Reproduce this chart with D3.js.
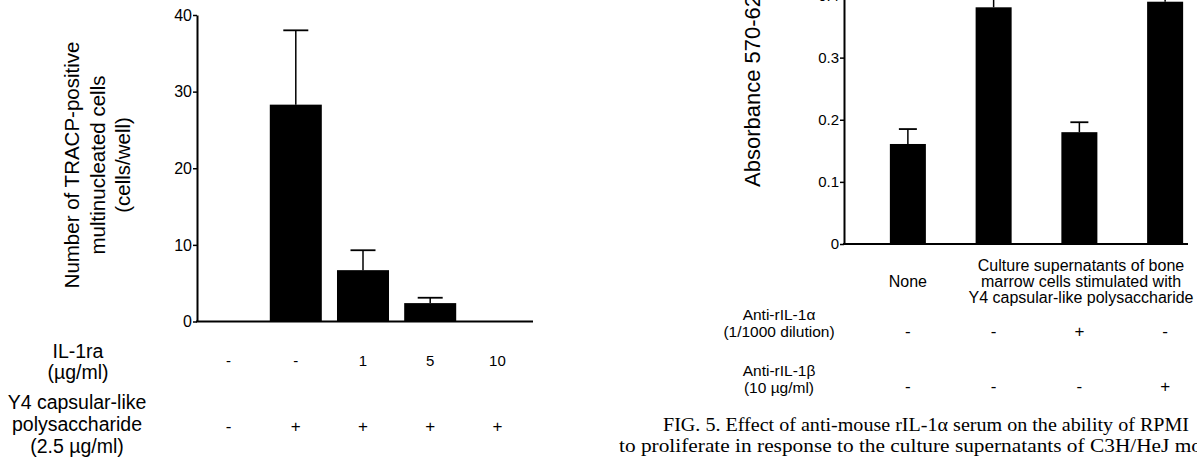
<!DOCTYPE html>
<html>
<head>
<meta charset="utf-8">
<script src="https://cdn.jsdelivr.net/npm/d3@7"></script>
<style>
  body { margin: 0; background: #fff; }
  svg { display: block; overflow: hidden; }
  text { font-family: "Liberation Sans", Arial, sans-serif; fill: #000; }
  .caption { font-family: "Liberation Serif", "Times New Roman", serif; }
</style>
</head>
<body>
<div id="fig"></div>
<script>
// left panel: TRACP-positive multinucleated cells
const leftGroups = ["g1", "g2", "g3", "g4", "g5"];
const leftValues = [0, 28.3, 6.7, 2.4, 0];
const leftErrTop = [null, 38.0, 9.3, 3.1, null];
const leftTicks = [0, 10, 20, 30, 40];
const il1raRow = ["-", "-", "1", "5", "10"];
const y4Row = ["-", "+", "+", "+", "+"];

// right panel: absorbance
const rightGroups = ["r1", "r2", "r3", "r4"];
const rightValues = [0.161, 0.381, 0.180, 0.39];
const rightErrTop = [0.185, 0.42, 0.196, 0.42];
const rightTicks = [0, 0.1, 0.2, 0.3, 0.4];
const antiAlphaRow = ["-", "-", "+", "-"];
const antiBetaRow = ["-", "-", "-", "+"];

const width = 1197, height = 457;

const svg = d3.select("#fig")
    .append("svg")
    .attr("width", width)
    .attr("height", height);

// ---------- left chart ----------
const xL = d3.scaleBand()
    .domain(leftGroups)
    .range([195, 531])
    .paddingInner(0.226)
    .paddingOuter(0.113);

const yL = d3.scaleLinear()
    .domain([0, 40])
    .range([321.5, 15]);

const gL = svg.append("g");

gL.selectAll("rect.bar")
    .data(leftValues)
    .join("rect")
    .attr("class", "bar")
    .attr("x", (d, i) => xL(leftGroups[i]))
    .attr("width", xL.bandwidth())
    .attr("y", d => yL(d))
    .attr("height", d => yL(0) - yL(d))
    .attr("fill", "#000");

// error bars (upper only)
leftErrTop.forEach(function (e, i) {
    if (e == null) return;
    const cx = xL(leftGroups[i]) + xL.bandwidth() / 2;
    gL.append("line")
        .attr("x1", cx).attr("x2", cx)
        .attr("y1", yL(leftValues[i])).attr("y2", yL(e))
        .attr("stroke", "#000").attr("stroke-width", 1.5);
    gL.append("line")
        .attr("x1", cx - 12.5).attr("x2", cx + 12.5)
        .attr("y1", yL(e)).attr("y2", yL(e))
        .attr("stroke", "#000").attr("stroke-width", 1.8);
});

const axL = gL.append("g")
    .attr("transform", "translate(197,0)")
    .call(d3.axisLeft(yL).tickValues(leftTicks).tickSize(4).tickSizeOuter(0).tickPadding(1));
axL.select(".domain").attr("stroke-width", 2);
axL.selectAll(".tick line").attr("stroke-width", 1.5);
axL.selectAll(".tick text").style("font-size", "16px").attr("font-family", null);

// baseline
gL.append("line")
    .attr("x1", 196).attr("x2", 533)
    .attr("y1", yL(0)).attr("y2", yL(0))
    .attr("stroke", "#000").attr("stroke-width", 2);

// y label
const yLabelL = ["Number of TRACP-positive", "multinucleated cells", "(cells/well)"];
gL.selectAll("text.ylab")
    .data(yLabelL)
    .join("text")
    .attr("class", "ylab")
    .attr("transform", (d, i) => "translate(" + (72 + i * 25.5) + ",165) rotate(-90)")
    .attr("text-anchor", "middle")
    .attr("dy", "0.35em")
    .style("font-size", "20.5px")
    .text(d => d);

// row labels
function rowLabel(g, lines, x, y0, step, size) {
    g.selectAll(null)
        .data(lines)
        .join("text")
        .attr("x", x)
        .attr("y", (d, i) => y0 + i * step)
        .attr("dy", "0.35em")
        .attr("text-anchor", "middle")
        .style("font-size", size)
        .text(d => d);
}
rowLabel(gL, ["IL-1ra", "(\u00b5g/ml)"], 78, 351, 21, "19.5px");
rowLabel(gL, ["Y4 capsular-like", "polysaccharide", "(2.5 \u00b5g/ml)"], 77, 402, 22, "19.5px");

gL.selectAll("text.il")
    .data(il1raRow)
    .join("text")
    .attr("x", (d, i) => xL(leftGroups[i]) + xL.bandwidth() / 2)
    .attr("y", 361)
    .attr("dy", "0.35em")
    .attr("text-anchor", "middle")
    .style("font-size", "15px")
    .text(d => d);

gL.selectAll("text.y4")
    .data(y4Row)
    .join("text")
    .attr("x", (d, i) => xL(leftGroups[i]) + xL.bandwidth() / 2)
    .attr("y", 426)
    .attr("dy", "0.35em")
    .attr("text-anchor", "middle")
    .style("font-size", "17px")
    .text(d => d);

// ---------- right chart ----------
const xR = d3.scaleBand()
    .domain(rightGroups)
    .range([865, 1208])
    .paddingInner(0.58)
    .paddingOuter(0.29);

const yR = d3.scaleLinear()
    .domain([0, 0.4])
    .range([244, -4.5]);

const gR = svg.append("g");

gR.selectAll("rect.bar")
    .data(rightValues)
    .join("rect")
    .attr("class", "bar")
    .attr("x", (d, i) => xR(rightGroups[i]))
    .attr("width", xR.bandwidth())
    .attr("y", d => yR(d))
    .attr("height", d => yR(0) - yR(d))
    .attr("fill", "#000");

rightErrTop.forEach(function (e, i) {
    const cx = xR(rightGroups[i]) + xR.bandwidth() / 2;
    gR.append("line")
        .attr("x1", cx).attr("x2", cx)
        .attr("y1", yR(rightValues[i])).attr("y2", yR(e))
        .attr("stroke", "#000").attr("stroke-width", 1.5);
    gR.append("line")
        .attr("x1", cx - 9).attr("x2", cx + 9)
        .attr("y1", yR(e)).attr("y2", yR(e))
        .attr("stroke", "#000").attr("stroke-width", 1.8);
});

const axR = gR.append("g")
    .attr("transform", "translate(844,0)")
    .call(d3.axisLeft(yR).tickValues(rightTicks).tickSize(4).tickSizeOuter(0).tickPadding(1)
        .tickFormat(d => d === 0 ? "0" : d3.format(".1f")(d)));
axR.select(".domain").attr("stroke-width", 2);
axR.selectAll(".tick line").attr("stroke-width", 1.5);
axR.selectAll(".tick text").style("font-size", "15px").attr("font-family", null);

gR.append("line")
    .attr("x1", 843).attr("x2", 1188)
    .attr("y1", yR(0)).attr("y2", yR(0))
    .attr("stroke", "#000").attr("stroke-width", 2);

gR.append("text")
    .attr("transform", "translate(752,187) rotate(-90)")
    .attr("text-anchor", "start")
    .attr("dy", "0.35em")
    .style("font-size", "22px")
    .text("Absorbance 570-620 nm");

// category labels
gR.append("text")
    .attr("x", xR("r1") + xR.bandwidth() / 2)
    .attr("y", 281)
    .attr("dy", "0.35em")
    .attr("text-anchor", "middle")
    .style("font-size", "16px")
    .text("None");

const groupLabel = ["Culture supernatants of bone", "marrow cells stimulated with", "Y4 capsular-like polysaccharide"];
rowLabel(gR, groupLabel, 1081, 265, 16.3, "16px");

rowLabel(gR, ["Anti-rIL-1\u03b1", "(1/1000 dilution)"], 779, 315, 16.5, "15.5px");
rowLabel(gR, ["Anti-rIL-1\u03b2", "(10 \u00b5g/ml)"], 779, 371, 16.5, "15.5px");

gR.selectAll("text.aa")
    .data(antiAlphaRow)
    .join("text")
    .attr("x", (d, i) => xR(rightGroups[i]) + xR.bandwidth() / 2)
    .attr("y", 331)
    .attr("dy", "0.35em")
    .attr("text-anchor", "middle")
    .style("font-size", "17px")
    .text(d => d);

gR.selectAll("text.ab")
    .data(antiBetaRow)
    .join("text")
    .attr("x", (d, i) => xR(rightGroups[i]) + xR.bandwidth() / 2)
    .attr("y", 386)
    .attr("dy", "0.35em")
    .attr("text-anchor", "middle")
    .style("font-size", "17px")
    .text(d => d);

// caption (cut off at the right edge like the scan)
svg.append("text")
    .attr("class", "caption")
    .attr("x", 663)
    .attr("y", 431)
    .attr("textLength", 526)
    .attr("lengthAdjust", "spacingAndGlyphs")
    .style("font-size", "18.5px")
    .text("FIG. 5. Effect of anti-mouse rIL-1\u03b1 serum on the ability of RPMI");
svg.append("text")
    .attr("class", "caption")
    .attr("x", 619)
    .attr("y", 452)
    .attr("textLength", 583)
    .attr("lengthAdjust", "spacingAndGlyphs")
    .style("font-size", "18.5px")
    .text("to proliferate in response to the culture supernatants of C3H/HeJ mo");
</script>
</body>
</html>
